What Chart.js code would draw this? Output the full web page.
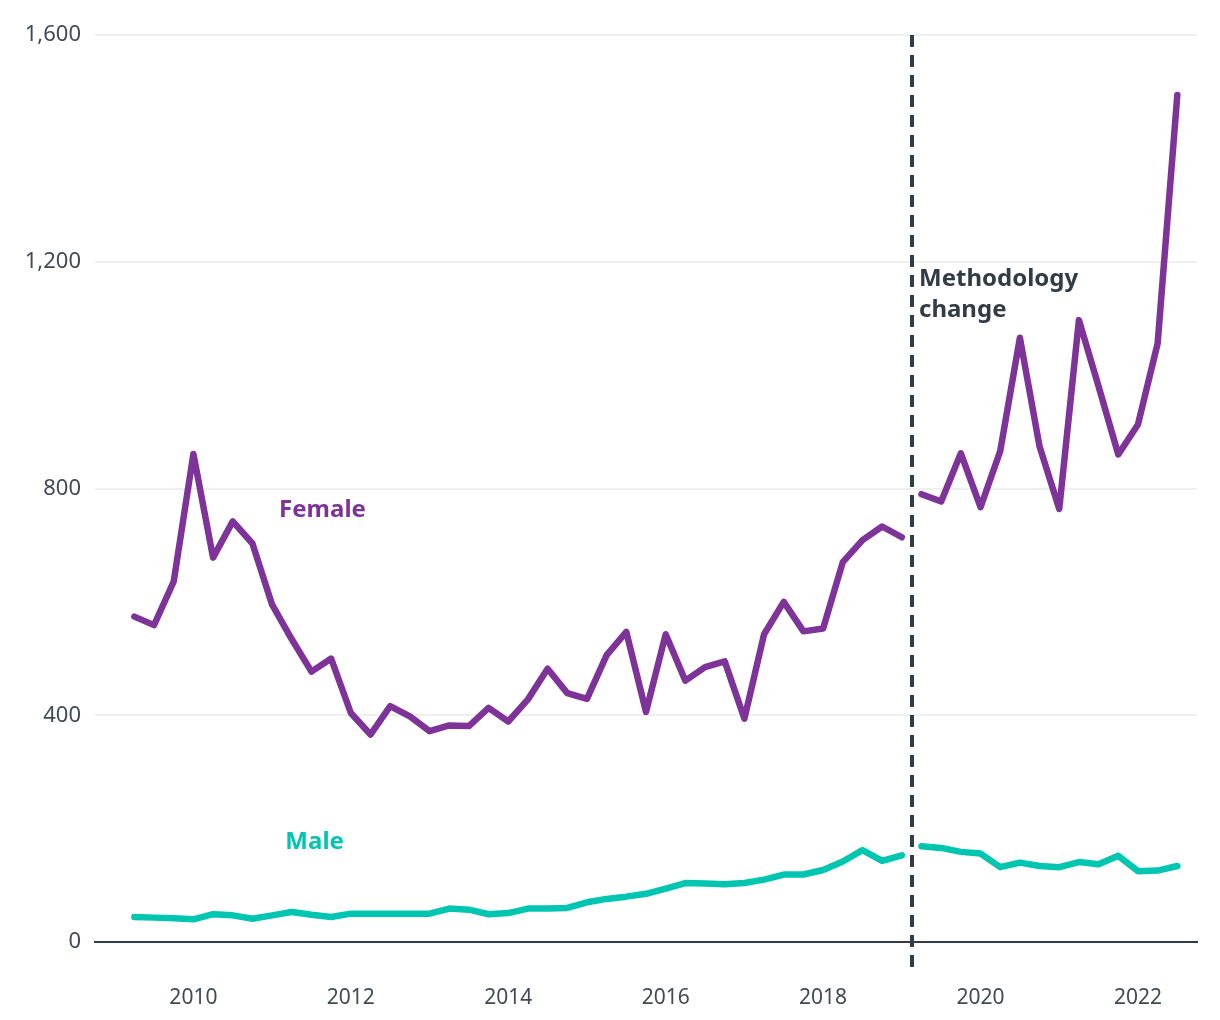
<!DOCTYPE html>
<html>
<head>
<meta charset="utf-8">
<script src="https://cdn.jsdelivr.net/npm/chart.js@4/dist/chart.umd.min.js"></script>
<style>
    html, body { margin: 0; padding: 0; background: #ffffff; }
    #wrap { width: 1220px; height: 1020px; }
</style>
</head>
<body>
<div id="wrap"><canvas id="genderChart" width="1220" height="1020"></canvas></div>
<script>
// quarters as decimal years
const quarters = [
    2009.25, 2009.5, 2009.75,
    2010, 2010.25, 2010.5, 2010.75,
    2011, 2011.25, 2011.5, 2011.75,
    2012, 2012.25, 2012.5, 2012.75,
    2013, 2013.25, 2013.5, 2013.75,
    2014, 2014.25, 2014.5, 2014.75,
    2015, 2015.25, 2015.5, 2015.75,
    2016, 2016.25, 2016.5, 2016.75,
    2017, 2017.25, 2017.5, 2017.75,
    2018, 2018.25, 2018.5, 2018.75,
    2019, 2019.25, 2019.5, 2019.75,
    2020, 2020.25, 2020.5, 2020.75,
    2021, 2021.25, 2021.5, 2021.75,
    2022, 2022.25, 2022.5
];
const female = [
    574, 559, 636,
    861, 678, 742, 703,
    595, 534, 477, 500,
    404, 366, 416, 398,
    372, 382, 381, 413,
    389, 428, 482, 439,
    429, 506, 547, 406,
    543, 461, 485, 495,
    394, 543, 600, 548,
    553, 670, 709, 733,
    714, 790, 777, 862,
    767, 866, 1066, 874,
    764, 1097, 980, 860,
    913, 1056, 1494
];
const male = [
    44, 43, 42,
    40, 49, 47, 41,
    47, 53, 48, 44,
    50, 50, 50, 50,
    50, 59, 57, 49,
    51, 59, 59, 60,
    70, 76, 80, 85,
    94, 104, 103, 102,
    104, 110, 119, 119,
    127, 142, 162, 143,
    153, 169, 166, 159,
    156, 132, 140, 134,
    132, 141, 137, 152,
    125, 126, 134
];
const yearTicks = [2010, 2012, 2014, 2016, 2018, 2020, 2022];
const valueTicks = [0, 400, 800, 1200, 1600];
const methodologyChange = 2019.125;

const FEMALE_COLOUR = '#7e3399';
const MALE_COLOUR = '#00c6b1';
const DARK = '#323c46';
const FONT = "'Noto Sans', 'DejaVu Sans', sans-serif";

function toPoints(values) {
    return values.map((v, i) => ({ x: quarters[i], y: v }));
}

// hide the segment that crosses the methodology change
function breakSegment(colour) {
    return ctx => (ctx.p0.parsed.x < methodologyChange && ctx.p1.parsed.x > methodologyChange) ? 'rgba(0,0,0,0)' : colour;
}

const annotations = {
    id: 'annotations',
    afterDatasetsDraw(chart) {
        const { ctx, scales: { x, y }, chartArea } = chart;
        const lx = Math.round(x.getPixelForValue(methodologyChange));
        ctx.save();
        ctx.strokeStyle = DARK;
        ctx.lineWidth = 4;
        ctx.setLineDash([12, 8]);
        ctx.beginPath();
        ctx.moveTo(lx, chartArea.top);
        ctx.lineTo(lx, chartArea.bottom + 29);
        ctx.stroke();
        ctx.setLineDash([]);

        ctx.font = 'bold 24px ' + FONT;
        ctx.textBaseline = 'middle';
        ctx.textAlign = 'center';
        ctx.fillStyle = FEMALE_COLOUR;
        ctx.fillText('Female', x.getPixelForValue(2011.64), y.getPixelForValue(761));
        ctx.fillStyle = MALE_COLOUR;
        ctx.fillText('Male', x.getPixelForValue(2011.54), y.getPixelForValue(176));

        ctx.textAlign = 'left';
        ctx.fillStyle = DARK;
        ctx.fillText('Methodology', lx + 7, y.getPixelForValue(1170));
        ctx.fillText('change', lx + 7, y.getPixelForValue(1114));
        ctx.restore();
    }
};

const chart = new Chart(document.getElementById('genderChart').getContext('2d'), {
    type: 'line',
    data: {
        datasets: [
            {
                label: 'Female',
                data: toPoints(female),
                borderColor: FEMALE_COLOUR,
                borderWidth: 6.5,
                borderCapStyle: 'round',
                borderJoinStyle: 'round',
                pointRadius: 0,
                tension: 0,
                segment: { borderColor: breakSegment(FEMALE_COLOUR) }
            },
            {
                label: 'Male',
                data: toPoints(male),
                borderColor: MALE_COLOUR,
                borderWidth: 6.5,
                borderCapStyle: 'round',
                borderJoinStyle: 'round',
                pointRadius: 0,
                tension: 0,
                segment: { borderColor: breakSegment(MALE_COLOUR) }
            }
        ]
    },
    options: {
        responsive: false,
        animation: false,
        layout: { padding: { top: 35, right: 23, left: 0, bottom: 0 } },
        plugins: {
            legend: { display: false },
            tooltip: { enabled: false }
        },
        scales: {
            x: {
                type: 'linear',
                min: 2008.75,
                max: 2022.75,
                afterBuildTicks: axis => { axis.ticks = yearTicks.map(v => ({ value: v })); },
                afterFit: axis => { axis.height = 78; },
                grid: { display: false, drawTicks: false },
                border: { display: true, color: DARK, width: 2 },
                ticks: {
                    padding: 43,
                    color: '#414a53',
                    font: { family: FONT, size: 21 },
                    callback: v => String(v)
                }
            },
            y: {
                min: 0,
                max: 1600,
                afterBuildTicks: axis => { axis.ticks = valueTicks.map(v => ({ value: v })); },
                afterFit: axis => { axis.width = 95; },
                grid: { color: '#efefef', lineWidth: 2, drawTicks: false },
                border: { display: false },
                ticks: {
                    padding: 14,
                    color: '#414a53',
                    font: { family: FONT, size: 22 },
                    callback: v => v.toLocaleString('en-GB')
                }
            }
        }
    },
    plugins: [annotations]
});
</script>
</body>
</html>
